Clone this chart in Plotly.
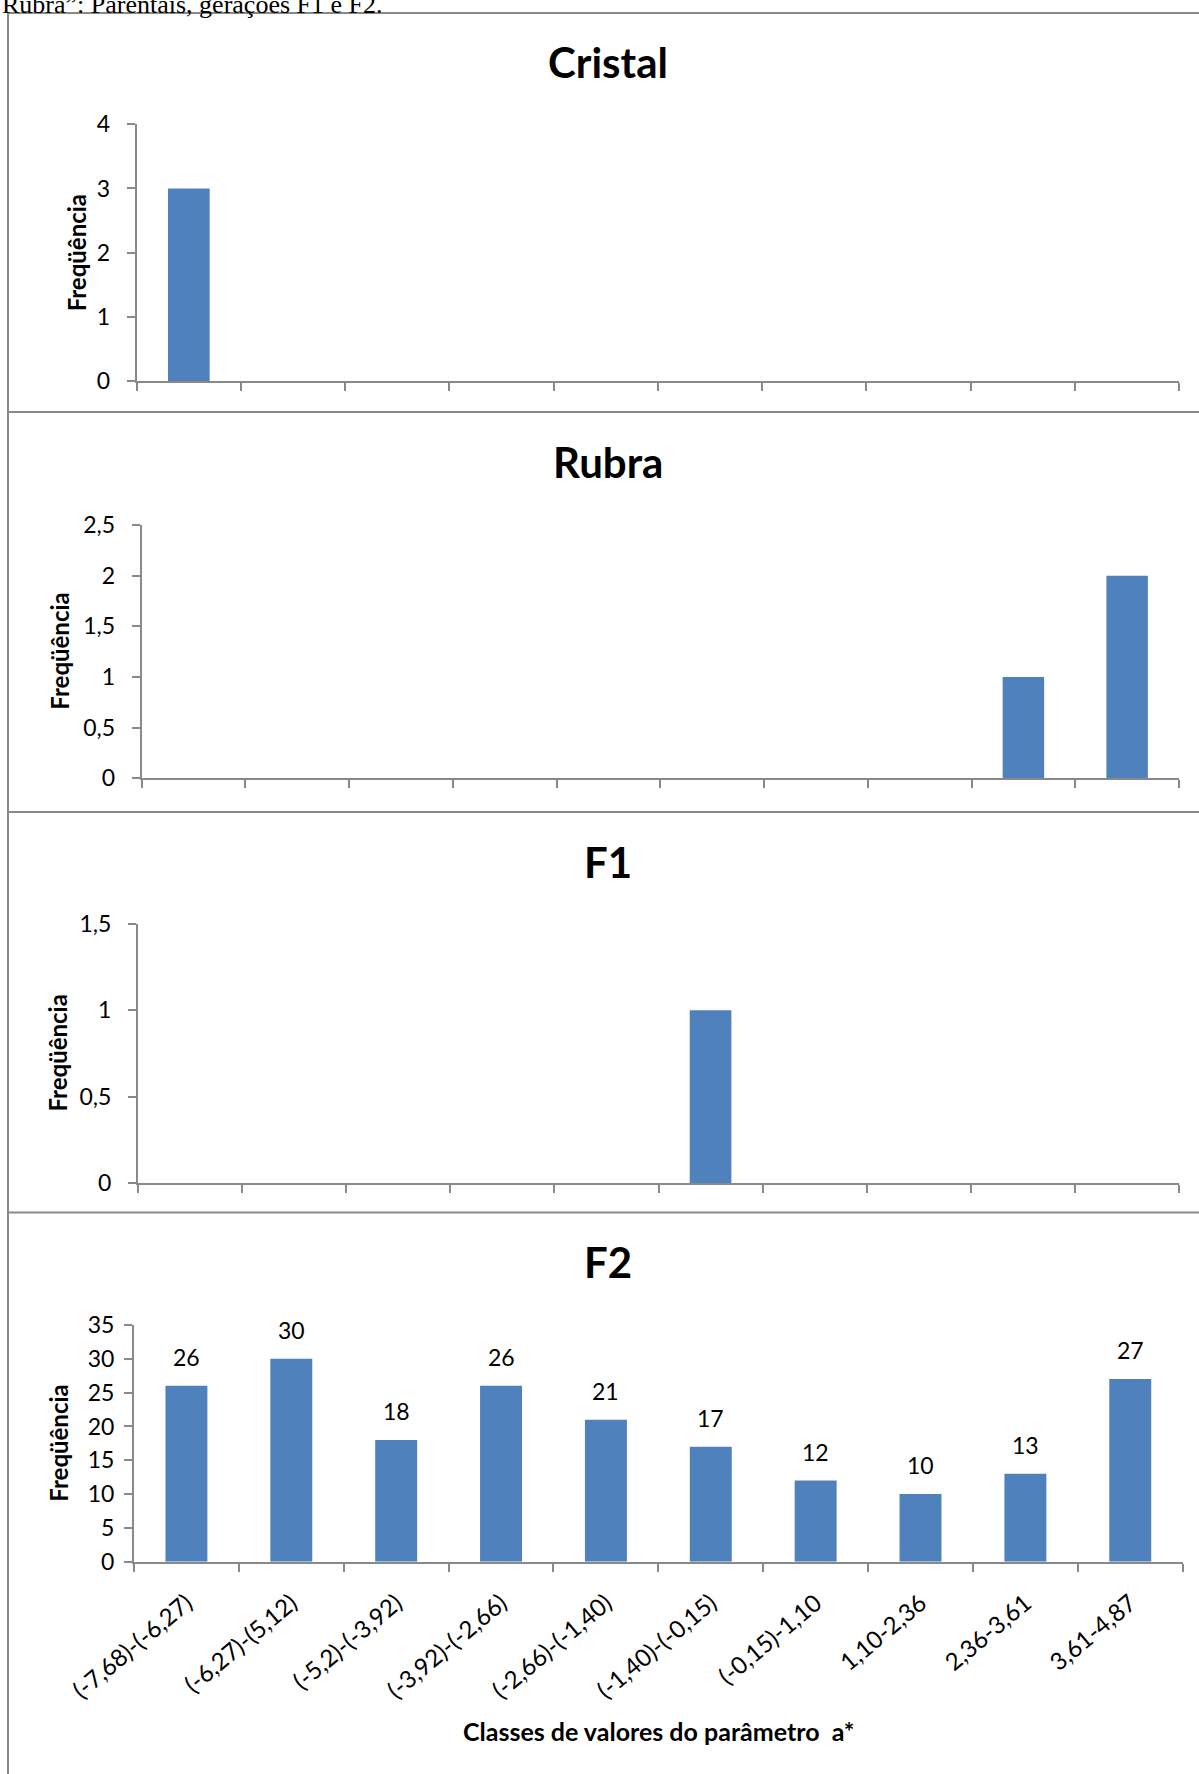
import plotly.graph_objects as go

W, H = 1199, 1774

categories = ["(-7,68)-(-6,27)", "(-6,27)-(5,12)", "(-5,2)-(-3,92)", "(-3,92)-(-2,66)",
              "(-2,66)-(-1,40)", "(-1,40)-(-0,15)", "(-0,15)-1,10", "1,10-2,36",
              "2,36-3,61", "3,61-4,87"]
cristal = [3, 0, 0, 0, 0, 0, 0, 0, 0, 0]
rubra = [0, 0, 0, 0, 0, 0, 0, 0, 1, 2]
f1 = [0, 0, 0, 0, 0, 1, 0, 0, 0, 0]
f2 = [26, 30, 18, 26, 21, 17, 12, 10, 13, 27]

panel_titles = ["Cristal", "Rubra", "F1", "F2"]
y_ranges = [[0, 4], [0, 2.5], [0, 1.5], [0, 35]]
y_dticks = [1, 0.5, 0.5, 5]
y_title = "Freqüência"
x_title = "Classes de valores do parâmetro  a*"
header = "Rubra”: Parentais, gerações F1 e F2."

series = [cristal, rubra, f1, f2]

# layout in pixels
plot_x = [(136.7, 1179), (141.7, 1179), (138, 1179), (134, 1182.7)]
plot_y = [(124.3, 381), (525, 778.3), (924, 1183), (1325, 1561.7)]
title_y = [62, 462, 862, 1262]
ytitle_x = [76.7, 60, 57, 58.3]
separators = [412, 812, 1212.5]

GRAY = "#898989"
BAR = "#4F81BD"
FONT = "Lato"

def fx(p):
    return p / W

def fy(p):
    return 1 - p / H

fig = go.Figure()
layout = dict(
    template="none",
    width=W, height=H, margin=dict(l=0, r=0, t=0, b=0, pad=0, autoexpand=False),
    paper_bgcolor="white", plot_bgcolor="white",
    showlegend=False, separators=", ", bargap=0.6,
    font=dict(family=FONT, color="black"),
)
annotations = []
shapes = []

for i in range(4):
    n = "" if i == 0 else str(i + 1)
    fig.add_trace(go.Bar(x=categories, y=series[i], marker=dict(color=BAR, line=dict(width=0)),
                         xaxis="x" + n, yaxis="y" + n, hoverinfo="skip"))
    last = (i == 3)
    layout["xaxis" + n] = dict(
        domain=[fx(plot_x[i][0]), fx(plot_x[i][1])], anchor="y" + n,
        type="category", categoryorder="array", categoryarray=categories,
        automargin=False,
        showline=True, linecolor=GRAY, linewidth=2,
        ticks="outside", tickson="boundaries", ticklen=8, tickwidth=2, tickcolor=GRAY,
        showgrid=False, zeroline=False,
        showticklabels=last, tickangle=-40 if last else 0,
        tickfont=dict(family=FONT, size=24, color="black"),
        ticklabelstandoff=16 if last else 0,
        range=[-0.5, 9.5], fixedrange=True,
    )
    layout["yaxis" + n] = dict(
        domain=[fy(plot_y[i][1]), fy(plot_y[i][0])], anchor="x" + n,
        automargin=False,
        range=y_ranges[i], dtick=y_dticks[i], tick0=0,
        showline=True, linecolor=GRAY, linewidth=2,
        ticks="outside", ticklen=8, tickwidth=2, tickcolor=GRAY,
        showgrid=False, zeroline=False,
        tickfont=dict(family=FONT, size=23, color="black"),
        ticklabelstandoff=12 if not last else 5,
        fixedrange=True,
    )
    annotations.append(dict(
        text="<b>%s</b>" % panel_titles[i], xref="paper", yref="paper",
        x=fx(608), y=fy(title_y[i]), xanchor="center", yanchor="middle",
        showarrow=False, font=dict(family=FONT, size=42, color="black"),
    ))
    annotations.append(dict(
        text="<b>%s</b>" % y_title, xref="paper", yref="paper", textangle=-90,
        x=fx(ytitle_x[i]), y=fy((plot_y[i][0] + plot_y[i][1]) / 2),
        xanchor="center", yanchor="middle",
        showarrow=False, font=dict(family=FONT, size=24, color="black"),
    ))

# data labels for F2
for c, v in zip(categories, f2):
    annotations.append(dict(
        text=str(v), x=c, y=v, xref="x4", yref="y4", xanchor="center", yanchor="bottom",
        yshift=13, showarrow=False, font=dict(family=FONT, size=23, color="black"),
    ))

annotations.append(dict(
    text="<b>%s</b>" % x_title, xref="paper", yref="paper",
    x=fx(658), y=fy(1731), xanchor="center", yanchor="middle",
    showarrow=False, font=dict(family=FONT, size=25, color="black"),
))
annotations.append(dict(
    text=header, xref="paper", yref="paper", x=0, y=fy(21),
    xanchor="left", yanchor="bottom", showarrow=False,
    font=dict(family="Liberation Serif", size=26, color="black"),
))

# frame lines
shapes.append(dict(type="line", xref="paper", yref="paper", x0=fx(8), x1=1, y0=fy(13), y1=fy(13),
                   line=dict(color=GRAY, width=2)))
shapes.append(dict(type="line", xref="paper", yref="paper", x0=fx(8), x1=fx(8), y0=fy(13), y1=0,
                   line=dict(color=GRAY, width=2)))
for s in separators:
    shapes.append(dict(type="line", xref="paper", yref="paper", x0=fx(8), x1=1, y0=fy(s), y1=fy(s),
                       line=dict(color=GRAY, width=2)))

layout["annotations"] = annotations
layout["shapes"] = shapes
fig.update_layout(**layout)
fig.write_html("out.html")
